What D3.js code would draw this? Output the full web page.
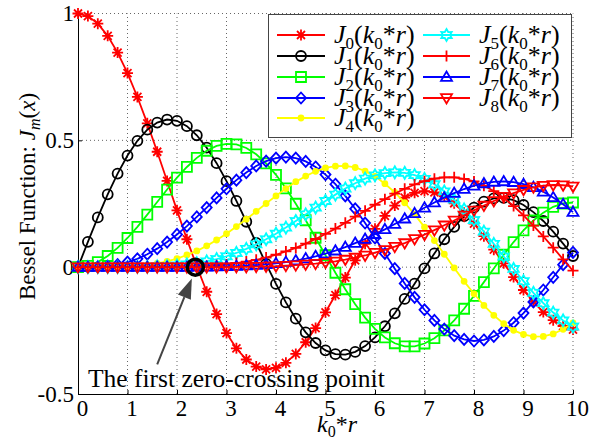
<!DOCTYPE html>
<html>
<head>
<meta charset="utf-8">
<script src="https://cdn.jsdelivr.net/npm/d3@7"></script>
<style>
  body { margin: 0; background: #fff; }
</style>
</head>
<body>
<div id="chart"></div>
<script>
// sample points of k0*r
const xs = [0,0.2,0.4,0.6,0.8,1.0,1.2,1.4,1.6,1.8,2.0,2.2,2.4,2.6,2.8,3.0,3.2,3.4,3.6,3.8,4.0,
  4.2,4.4,4.6,4.8,5.0,5.2,5.4,5.6,5.8,6.0,6.2,6.4,6.6,6.8,7.0,7.2,7.4,7.6,7.8,8.0,
  8.2,8.4,8.6,8.8,9.0,9.2,9.4,9.6,9.8,10.0];

const J0 = [1.000,0.990,0.960,0.912,0.846,0.765,0.671,0.567,0.455,0.340,0.224,0.110,0.003,-0.097,-0.185,-0.260,-0.320,-0.364,-0.392,-0.403,-0.397,-0.377,-0.342,-0.296,-0.240,-0.178,-0.110,-0.041,0.027,0.092,0.151,0.202,0.243,0.274,0.293,0.300,0.295,0.279,0.252,0.215,0.172,0.122,0.069,0.015,-0.039,-0.090,-0.137,-0.177,-0.209,-0.232,-0.246];
const J1 = [0,0.100,0.196,0.287,0.369,0.440,0.498,0.542,0.570,0.582,0.577,0.556,0.520,0.471,0.410,0.339,0.261,0.179,0.096,0.013,-0.066,-0.139,-0.203,-0.257,-0.299,-0.328,-0.343,-0.345,-0.334,-0.311,-0.277,-0.233,-0.182,-0.125,-0.065,-0.005,0.054,0.110,0.159,0.201,0.235,0.258,0.271,0.273,0.264,0.245,0.217,0.182,0.140,0.093,0.044];
const J2 = [0,0.005,0.020,0.044,0.076,0.115,0.159,0.207,0.257,0.306,0.353,0.395,0.431,0.459,0.478,0.486,0.484,0.470,0.445,0.409,0.364,0.311,0.250,0.185,0.116,0.047,-0.022,-0.087,-0.146,-0.199,-0.243,-0.277,-0.300,-0.312,-0.312,-0.301,-0.280,-0.249,-0.210,-0.164,-0.113,-0.059,-0.005,0.049,0.099,0.145,0.184,0.215,0.238,0.251,0.255];
const J3 = [0,0,0.001,0.004,0.010,0.020,0.033,0.051,0.073,0.099,0.129,0.162,0.198,0.235,0.273,0.309,0.343,0.373,0.399,0.418,0.430,0.434,0.430,0.417,0.395,0.365,0.327,0.281,0.230,0.174,0.115,0.054,-0.006,-0.064,-0.119,-0.168,-0.210,-0.244,-0.270,-0.285,-0.291,-0.287,-0.273,-0.250,-0.219,-0.181,-0.137,-0.090,-0.040,0.010,0.058];
const J4 = [0,0,0,0,0.001,0.002,0.005,0.009,0.015,0.023,0.034,0.048,0.064,0.084,0.107,0.132,0.160,0.189,0.220,0.251,0.281,0.310,0.337,0.359,0.378,0.391,0.398,0.399,0.393,0.379,0.358,0.329,0.295,0.254,0.208,0.158,0.105,0.051,-0.003,-0.056,-0.105,-0.151,-0.190,-0.223,-0.249,-0.265,-0.274,-0.273,-0.263,-0.245,-0.220];
const J5 = [0,0,0,0,0,0,0.001,0.001,0.003,0.004,0.007,0.011,0.016,0.023,0.032,0.043,0.056,0.072,0.090,0.110,0.132,0.156,0.182,0.208,0.235,0.261,0.286,0.310,0.331,0.349,0.362,0.371,0.374,0.372,0.363,0.348,0.327,0.299,0.266,0.228,0.186,0.140,0.092,0.042,-0.007,-0.055,-0.101,-0.142,-0.179,-0.210,-0.234];
const J6 = [0,0,0,0,0,0,0,0,0,0.001,0.001,0.002,0.003,0.005,0.008,0.011,0.016,0.022,0.029,0.038,0.049,0.062,0.076,0.093,0.111,0.131,0.152,0.175,0.199,0.222,0.246,0.268,0.290,0.309,0.326,0.339,0.349,0.354,0.354,0.348,0.338,0.321,0.300,0.273,0.241,0.204,0.164,0.121,0.077,0.031,-0.014];
const J7 = [0,0,0,0,0,0,0,0,0,0,0,0,0.001,0.001,0.002,0.003,0.004,0.006,0.008,0.011,0.015,0.020,0.026,0.034,0.043,0.053,0.065,0.079,0.095,0.111,0.130,0.149,0.170,0.191,0.212,0.234,0.255,0.274,0.292,0.308,0.321,0.330,0.336,0.338,0.335,0.327,0.315,0.297,0.275,0.248,0.217];
const J8 = [0,0,0,0,0,0,0,0,0,0,0,0,0,0,0,0,0.001,0.001,0.002,0.003,0.004,0.006,0.008,0.011,0.014,0.018,0.023,0.030,0.038,0.046,0.057,0.068,0.081,0.095,0.111,0.128,0.146,0.165,0.184,0.204,0.224,0.243,0.261,0.278,0.292,0.305,0.315,0.321,0.324,0.323,0.318];

const seriesValues = [J0, J1, J2, J3, J4, J5, J6, J7, J8];
const orders = ['0','1','2','3','4','5','6','7','8'];
const xTicks = [0,1,2,3,4,5,6,7,8,9,10];
const yTicks = [-0.5, 0, 0.5, 1];
const yTickLabels = ['-0.5', '0', '0.5', '1'];

// annotation (data coordinates)
const zeroCross = { x: 2.37, y: 0 };
const arrowFrom = { x: 1.6, y: -0.383 };
const arrowTo   = { x: 2.3, y: -0.045 };
const noteText = 'The first zero-crossing poinit';

// styles per series
const colors  = ['#ff0000','#000000','#00ff00','#0000ff','#ffff00','#00ffff','#ff0000','#0000ff','#ff0000'];
const markers = ['asterisk','circle','square','diamond','dot','hexagram','plus','triUp','triDown'];

const FONT = '"Liberation Serif", "Times New Roman", Times, "DejaVu Serif", serif';
const width = 598, height = 445;
const x = d3.scaleLinear().domain([0, 10]).range([78, 573]);
const y = d3.scaleLinear().domain([-0.5, 1]).range([394, 13.5]);

const svg = d3.select('#chart').append('svg')
  .attr('width', width).attr('height', height)
  .attr('font-family', FONT);

// marker shapes
function hexagram(ro, ri) {
  const pts = [];
  for (let i = 0; i < 12; i++) {
    const a = -Math.PI / 2 + i * Math.PI / 6;
    const r = i % 2 ? ri : ro;
    pts.push([r * Math.cos(a), r * Math.sin(a)]);
  }
  return 'M' + pts.map(p => p.join(',')).join('L') + 'Z';
}
const markerPath = {
  asterisk: 'M-5.5,0L5.5,0M0,-5.5L0,5.5M-4,-4L4,4M-4,4L4,-4',
  circle:   'M5,0A5,5 0 1,1 -5,0A5,5 0 1,1 5,0Z',
  square:   'M-5,-5L5,-5L5,5L-5,5Z',
  diamond:  'M0,-5.5L5,0L0,5.5L-5,0Z',
  dot:      'M2.5,0A2.5,2.5 0 1,1 -2.5,0A2.5,2.5 0 1,1 2.5,0Z',
  hexagram: hexagram(6, 3.4),
  plus:     'M-5.5,0L5.5,0M0,-5.5L0,5.5',
  triUp:    'M0,-5.5L5.5,3.8L-5.5,3.8Z',
  triDown:  'M0,5.5L5.5,-3.8L-5.5,-3.8Z'
};
const SW = 1.8;

// grid
const grid = svg.append('g')
  .attr('stroke', '#666').attr('stroke-width', 1).attr('stroke-dasharray', '1,3');
grid.selectAll('line.gx').data(xTicks.slice(1)).join('line')
  .attr('x1', d => x(d)).attr('x2', d => x(d))
  .attr('y1', y(-0.5)).attr('y2', y(1));
grid.selectAll('line.gy').data(yTicks.slice(1)).join('line')
  .attr('x1', x(0)).attr('x2', x(10))
  .attr('y1', d => y(d)).attr('y2', d => y(d));

// axes (left + bottom, ticks inward)
const axX = svg.append('g').attr('transform', `translate(0,${y(-0.5)})`)
  .call(d3.axisBottom(x).tickValues(xTicks).tickSize(-4).tickSizeOuter(0).tickPadding(6));
const axY = svg.append('g').attr('transform', `translate(${x(0)},0)`)
  .call(d3.axisLeft(y).tickValues(yTicks).tickFormat((d, i) => yTickLabels[i])
    .tickSize(-4).tickSizeOuter(0).tickPadding(4));
[axX, axY].forEach(a => {
  a.attr('font-family', FONT).attr('font-size', 23);
  a.select('.domain').attr('stroke', '#000');
  a.selectAll('.tick line').attr('stroke', '#000');
});
axX.selectAll('text').attr('dx', 4);

// series
const line = d3.line().x((d, i) => x(xs[i])).y(d => y(d));
seriesValues.forEach((vals, s) => {
  const g = svg.append('g');
  g.append('path').datum(vals)
    .attr('d', line)
    .attr('fill', 'none').attr('stroke', colors[s]).attr('stroke-width', SW);
  g.selectAll('path.m').data(vals).join('path')
    .attr('class', 'm')
    .attr('transform', (d, i) => `translate(${x(xs[i])},${y(d)})`)
    .attr('d', markerPath[markers[s]])
    .attr('fill', markers[s] === 'dot' ? colors[s] : 'none')
    .attr('stroke', colors[s]).attr('stroke-width', SW);
});

// rich text helper: parts of [text, italic, subscript]
function richText(sel, parts, size, subSize, shift) {
  let down = false;
  parts.forEach(([t, it, sub]) => {
    const ts = sel.append('tspan').text(t)
      .attr('font-style', it ? 'italic' : 'normal')
      .attr('font-size', sub ? subSize : size);
    if (sub && !down) { ts.attr('dy', shift); down = true; }
    else if (!sub && down) { ts.attr('dy', -shift); down = false; }
  });
}

// legend
const legend = svg.append('g');
legend.append('rect')
  .attr('x', 268.5).attr('y', 14.5).attr('width', 303).attr('height', 123)
  .attr('fill', '#fff').attr('stroke', '#444').attr('stroke-width', 1);
const rowY = [35, 56, 77, 98, 118];
seriesValues.forEach((vals, s) => {
  const col = s < 5 ? 0 : 1;
  const row = s < 5 ? s : s - 5;
  const x0 = col ? 423 : 277, x1 = col ? 470 : 325, tx = col ? 479 : 334;
  const ly = rowY[row];
  legend.append('line').attr('x1', x0).attr('x2', x1).attr('y1', ly).attr('y2', ly)
    .attr('stroke', colors[s]).attr('stroke-width', SW);
  legend.append('path')
    .attr('transform', `translate(${(x0 + x1) / 2},${ly})`)
    .attr('d', markerPath[markers[s]])
    .attr('fill', markers[s] === 'dot' ? colors[s] : 'none')
    .attr('stroke', colors[s]).attr('stroke-width', SW);
  const t = legend.append('text').attr('x', tx).attr('y', ly + 8);
  richText(t, [['J', true], [orders[s], false, true], ['(', false], ['k', true],
    ['0', false, true], ['*', false], ['r', true], [')', false]], 26, 17, 6);
});

// axis labels
const xl = svg.append('text').attr('x', 317).attr('y', 432);
richText(xl, [['k', true], ['0', false, true], ['*', false], ['r', true]], 24, 16, 5);
const yl = svg.append('text').attr('transform', 'translate(35,300) rotate(-90)');
richText(yl, [['Bessel Function: ', false], ['J', true], ['m', true, true],
  ['(', false], ['x', true], [')', false]], 23, 16, 5);

// annotation: zero-crossing circle + arrow + note
svg.append('circle')
  .attr('cx', x(zeroCross.x)).attr('cy', y(zeroCross.y)).attr('r', 8)
  .attr('fill', 'none').attr('stroke', '#000').attr('stroke-width', 3.5);

const ax0 = x(arrowFrom.x), ay0 = y(arrowFrom.y), ax1 = x(arrowTo.x), ay1 = y(arrowTo.y);
const ang = Math.atan2(ay1 - ay0, ax1 - ax0);
const headLen = 20, headW = 7;
const bx = ax1 - headLen * Math.cos(ang), by = ay1 - headLen * Math.sin(ang);
svg.append('line').attr('x1', ax0).attr('y1', ay0).attr('x2', bx).attr('y2', by)
  .attr('stroke', '#444').attr('stroke-width', 2);
svg.append('path')
  .attr('d', `M${ax1},${ay1}L${bx + headW * Math.sin(ang)},${by - headW * Math.cos(ang)}` +
    `L${bx - headW * Math.sin(ang)},${by + headW * Math.cos(ang)}Z`)
  .attr('fill', '#444');

svg.append('text').attr('x', 88).attr('y', 387)
  .attr('font-size', 25.5).text(noteText);
</script>
</body>
</html>
